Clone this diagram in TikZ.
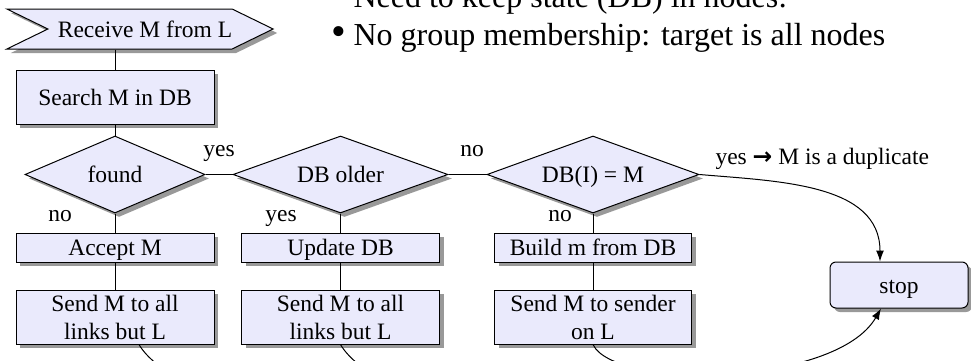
\documentclass[tikz,border=0pt]{standalone}
\usepackage{fontspec}
\setmainfont{Liberation Serif}
\newfontfamily\arrowfont{DejaVu Sans}
\usetikzlibrary{positioning,shapes.geometric,shapes.symbols,shadows,arrows.meta}
\definecolor{boxfill}{RGB}{234,234,252}
\tikzset{proc/.style={rectangle,draw,fill=boxfill,line width=1pt,minimum width=198pt,minimum height=29pt,inner sep=0pt,align=center,text height=16pt,text depth=0pt,font=\fontsize{23.5}{28}\selectfont,drop shadow={shadow xshift=4pt,shadow yshift=-4pt,fill=black!40,opacity=1}},
	 tall/.style={minimum height=54pt,text height=,text depth=},
	 test/.style={proc,diamond,aspect=2.8,minimum height=77pt},
	 start/.style={proc,signal,signal to=east,signal from=west,signal pointer angle=52,minimum width=264pt,minimum height=40pt},
	 lbl/.style={font=\fontsize{23.5}{28}\selectfont,inner sep=0pt,anchor=base},
	 big/.style={font=\fontsize{32}{36}\selectfont,inner sep=0pt,anchor=base west},
	 node distance = 19pt
	 }

\begin{document}
\begin{tikzpicture}[x=1pt,y=1pt,line width=1pt,>={Latex[length=11pt,width=8pt]}] % flooding with duplicate check
	\useasboundingbox (0,0) rectangle (971,360);
	\clip (0,0) rectangle (971,360);
	\node[big] (need) at (353,353) {Need to keep state (DB) in nodes:};
	\node[big] (nogroup) at (353,315) {\llap{{\fontsize{42}{42}\selectfont\textbullet}\hspace{7pt}}No group membership: target is all nodes};
	\node[proc,tall] (search) at (115,263) {Search M in DB};
	\node[start] (receive) [above=20pt of search,xshift=25pt] {\hspace{10pt}Receive M from L};
	\node[test,minimum width=180pt] (found) [below=11pt of search] {found};
	\node[test,minimum width=215pt] (dbolder) [right=27pt of found] {DB older};
	\node[test,minimum width=212pt] (dbim) [right=38pt of dbolder] {DB(I) = M};
	\node[proc] (accept) [below=of found] {Accept M};
	\node[proc,tall] (send1) [below=27pt of accept] {Send M to all\\links but L};
	\node[proc] (update) [below=of dbolder] {Update DB};
	\node[proc,tall] (send2) [below=27pt of update] {Send M to all\\links but L};
	\node[proc,minimum width=197pt] (build) [below=of dbim] {Build m from DB};
	\node[proc,tall,minimum width=197pt] (send3) [below=27pt of build] {Send M to sender\\on L};
	\node[proc,rounded corners=6pt,minimum width=138pt,minimum height=46pt] (stop) at (899,75) {stop};
	\node[lbl] (yesa) at (219,204) {yes};
	\node[lbl] (noa) at (60,139) {no};
	\node[lbl] (yesb) at (281,139) {yes};
	\node[lbl] (noc) at (472,204) {no};
	\node[lbl] (nod) at (560,139) {no};
	\node[lbl,anchor=base west] (dup) at (715,196) {yes {\arrowfont\bfseries →} M is a duplicate};
	\coordinate (out1) at (260,-40);
	\coordinate (out2) at (460,-40);
	\draw (receive.south -| search.north) to (search.north);
	\draw (search.south) to (found.north);
	\draw (found.east) to (dbolder.west); \draw (dbolder.east) to (dbim.west);
	\draw (found.south) to (accept.north); \draw (accept.south) to (send1.north);
	\draw (dbolder.south) to (update.north); \draw (update.south) to (send2.north);
	\draw (dbim.south) to (build.north); \draw (build.south) to (send3.north);
	\draw [->] (dbim.east) to[out=-5,in=90] ([xshift=-19pt]stop.north);
	\draw ([xshift=24pt]send1.south) to[out=-60,in=180,out distance=30pt] (out1);
	\draw (send2.south) to[out=-60,in=180,out distance=30pt] (out2);
	\draw [->] (send3.south) to[out=-65,in=-120,out distance=50pt,in distance=90pt] ([xshift=-18pt]stop.south);
\end{tikzpicture}
\end{document}
